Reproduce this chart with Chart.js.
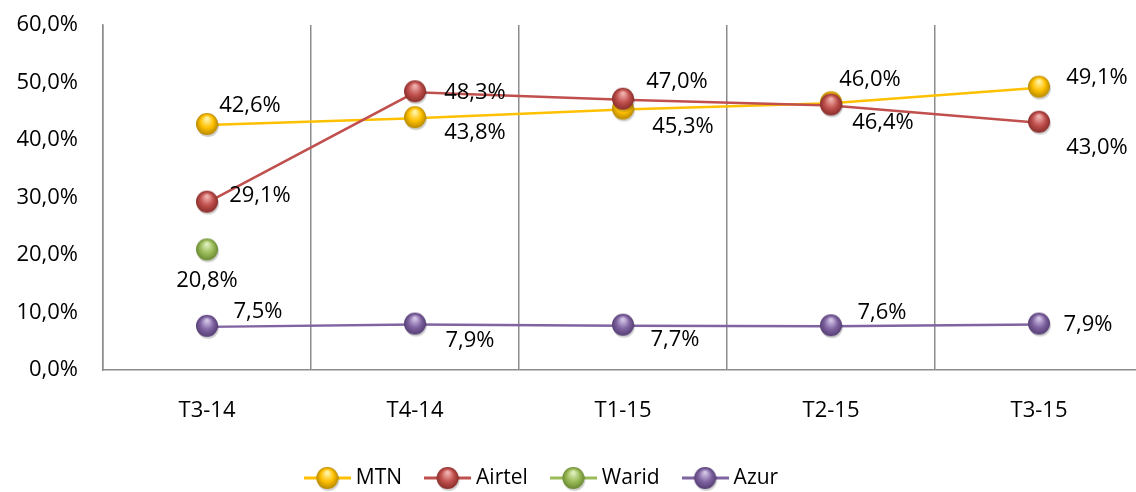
<!DOCTYPE html>
<html>
<head>
<meta charset="utf-8">
<script src="https://cdn.jsdelivr.net/npm/chart.js"></script>
<style>
  html, body { margin: 0; padding: 0; background: #fff; overflow: hidden; }
  #chart { display: block; }
</style>
</head>
<body>
<canvas id="chart" width="1143" height="492"></canvas>
<script>
// Data
const quarters = ['T3-14', 'T4-14', 'T1-15', 'T2-15', 'T3-15'];
const mtnValues = [42.6, 43.8, 45.3, 46.4, 49.1];
const airtelValues = [29.1, 48.3, 47.0, 46.0, 43.0];
const waridValues = [20.8, null, null, null, null];
const azurValues = [7.5, 7.9, 7.7, 7.6, 7.9];
const yTicks = [0, 10, 20, 30, 40, 50, 60];

// Label offsets (px from point), per series
const mtnLabelPos = [[43, -19], [60, 15], [60, 17], [52, 20], [58, -10]];
const airtelLabelPos = [[53, -7], [60, 0], [54, -18], [39, -26], [58, 25]];
const waridLabelPos = [[0, 30]];
const azurLabelPos = [[51, -15], [55, 16], [52, 14], [51, -14], [49, 0]];

const FONT = '"Open Sans", "Liberation Sans", sans-serif';
const fmt = v => v.toFixed(1).replace('.', ',') + '%';

// Sphere marker images
function sphere(light, base, dark, withLine) {
    const r = 11;
    const c = document.createElement('canvas');
    c.width = withLine ? 47 : 26;
    c.height = 26;
    const ctx = c.getContext('2d');
    const cx = c.width / 2, cy = 12;
    if (withLine) {
        ctx.strokeStyle = base;
        ctx.lineWidth = 3;
        ctx.beginPath();
        ctx.moveTo(0, cy);
        ctx.lineTo(c.width, cy);
        ctx.stroke();
    }
    // soft shadow
    ctx.fillStyle = 'rgba(0,0,0,0.18)';
    ctx.beginPath();
    ctx.arc(cx + 1, cy + 2, r, 0, Math.PI * 2);
    ctx.fill();
    const g = ctx.createRadialGradient(cx, cy - r * 0.5, 1, cx, cy, r);
    g.addColorStop(0, light);
    g.addColorStop(0.55, base);
    g.addColorStop(1, dark);
    ctx.fillStyle = g;
    ctx.beginPath();
    ctx.arc(cx, cy, r, 0, Math.PI * 2);
    ctx.fill();
    return c;
}

const series = [
    { label: 'MTN', data: mtnValues, color: '#FFC000', light: '#FFF3A6', dark: '#B88A00', pos: mtnLabelPos },
    { label: 'Airtel', data: airtelValues, color: '#C0504D', light: '#F0B0AE', dark: '#8A2E2C', pos: airtelLabelPos },
    { label: 'Warid', data: waridValues, color: '#9BBB59', light: '#DDEEBB', dark: '#6A8A33', pos: waridLabelPos },
    { label: 'Azur', data: azurValues, color: '#8064A2', light: '#D2C4E6', dark: '#563F74', pos: azurLabelPos }
];

series.forEach(s => {
    s.ball = sphere(s.light, s.color, s.dark, false);
    s.legendImg = sphere(s.light, s.color, s.dark, true);
});

// Data labels
const valueLabels = {
    id: 'valueLabels',
    afterDatasetsDraw(chart) {
        const ctx = chart.ctx;
        ctx.save();
        ctx.font = '22px ' + FONT;
        ctx.fillStyle = '#000';
        ctx.textAlign = 'center';
        ctx.textBaseline = 'middle';
        chart.data.datasets.forEach((ds, i) => {
            const meta = chart.getDatasetMeta(i);
            meta.data.forEach((pt, j) => {
                const v = ds.data[j];
                if (v == null) return;
                const off = series[i].pos[j] || [0, 0];
                ctx.fillText(fmt(v), pt.x + off[0], pt.y + off[1]);
            });
        });
        ctx.restore();
    }
};

// Legend drawn below the plot
const bottomLegend = {
    id: 'bottomLegend',
    afterDraw(chart) {
        const ctx = chart.ctx;
        ctx.save();
        ctx.font = '21px ' + FONT;
        ctx.fillStyle = '#000';
        ctx.textBaseline = 'middle';
        const gap = 5, sep = 22;
        const widths = series.map(s => 47 + gap + ctx.measureText(s.label).width);
        const total = widths.reduce((a, b) => a + b, 0) + sep * (series.length - 1);
        let x = 541 - total / 2;
        const y = 478;
        series.forEach((s, i) => {
            ctx.drawImage(s.legendImg, x, y - 12);
            ctx.fillText(s.label, x + 47 + gap, y);
            x += widths[i] + sep;
        });
        ctx.restore();
    }
};

const datasets = series.map((s, i) => ({
    label: s.label,
    data: s.data,
    order: series.length - i,
    borderColor: s.color,
    backgroundColor: s.color,
    borderWidth: 2.5,
    pointStyle: s.ball,
    pointRadius: 11,
    pointHoverRadius: 11,
    spanGaps: false,
    tension: 0
}));

new Chart(document.getElementById('chart'), {
    type: 'line',
    data: { labels: quarters, datasets: datasets },
    options: {
        responsive: false,
        animation: false,
        layout: { autoPadding: false, padding: { top: 25, left: 0, right: 0, bottom: 0 } },
        plugins: {
            legend: { display: false },
            tooltip: { enabled: false }
        },
        scales: {
            x: {
                offset: true,
                grid: { offset: true, display: true, color: '#8c8c8c', lineWidth: 1.5, drawTicks: false },
                border: { color: '#8c8c8c', width: 1.5 },
                ticks: { color: '#000', font: { family: FONT, size: 22 }, padding: 28, maxRotation: 0 },
                afterFit(scale) {
                    scale.height = 122;
                    scale.paddingLeft = 0;
                    scale.paddingRight = 0;
                }
            },
            y: {
                min: 0,
                max: 60,
                grid: { display: false, drawTicks: false },
                border: { color: '#8c8c8c', width: 1.5 },
                afterBuildTicks(scale) { scale.ticks = yTicks.map(v => ({ value: v })); },
                ticks: {
                    color: '#000',
                    font: { family: FONT, size: 22 },
                    padding: 25,
                    callback: v => fmt(v)
                },
                afterFit(scale) {
                    scale.width = 103;
                    scale.paddingTop = 12;
                    scale.paddingBottom = 12;
                }
            }
        }
    },
    plugins: [valueLabels, bottomLegend]
});
</script>
</body>
</html>
